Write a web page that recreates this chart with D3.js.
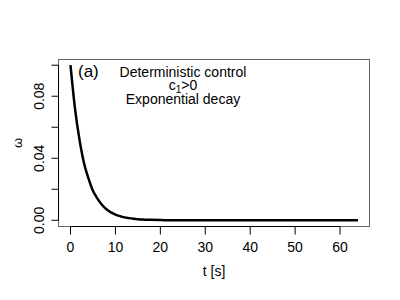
<!DOCTYPE html>
<html><head><meta charset="utf-8">
<script src="https://cdn.jsdelivr.net/npm/d3@7"></script>
<style>body{margin:0;background:#fff;}svg{display:block;font-family:"Liberation Sans",Arial,sans-serif;}</style>
</head><body>
<script>
const timeS = [0,1,2,3,4,5,6,7,8,9,10,11,12,13,14,15,16,18,20,22,25,30,35,40,45,50,55,60,64];
const omega = [0.1,0.072,0.052,0.037,0.027,0.019,0.014,0.010,0.0071,0.0051,0.0037,0.0027,0.0019,0.0014,0.0010,0.0007,0.0005,0.0003,0.00015,0.00008,0.00003,0,0,0,0,0,0,0,0];
const xTicks = [0,10,20,30,40,50,60];
const yTicks = [0,0.02,0.04,0.06,0.08,0.10];
const yLabels = ["0.00","","0.04","","0.08",""];
const annotation = ["Deterministic control","c₁>0","Exponential decay"];

const W=400,H=300;
const svg=d3.select("body").append("svg").attr("width",W).attr("height",H);
const x=d3.scaleLinear().domain([-2.56,66.56]).range([59,369.5]);
const y=d3.scaleLinear().domain([-0.004,0.104]).range([226.5,59]);

svg.append("rect").attr("x",58.5).attr("y",59.5).attr("width",311).attr("height",167)
  .attr("fill","none").attr("stroke","#666").attr("stroke-width",1);

const gx=svg.append("g").attr("transform","translate(0,226.5)");
gx.append("line").attr("x1",x(0)).attr("x2",x(60)).attr("stroke","#000");
xTicks.forEach(t=>{
  gx.append("line").attr("x1",x(t)).attr("x2",x(t)).attr("y1",0).attr("y2",8).attr("stroke","#000");
  gx.append("text").attr("x",x(t)).attr("y",21).attr("dy","0.35em").attr("text-anchor","middle").attr("font-size",14).text(t);
});
const gy=svg.append("g").attr("transform","translate(58.5,0)");
gy.append("line").attr("y1",y(0)).attr("y2",y(0.1)).attr("stroke","#000");
yTicks.forEach((t,i)=>{
  gy.append("line").attr("y1",y(t)).attr("y2",y(t)).attr("x1",0).attr("x2",-7).attr("stroke","#000");
  if(yLabels[i]) gy.append("text").attr("transform",`translate(-19,${y(t)}) rotate(-90)`)
    .attr("text-anchor","middle").attr("dy","0.35em").attr("font-size",14).text(yLabels[i]);
});

svg.append("text").attr("x",214).attr("y",271).attr("dy","0.35em").attr("text-anchor","middle").attr("font-size",14).text("t [s]");
svg.append("text").attr("transform","translate(17,143) rotate(-90)").attr("dy","0.35em").attr("text-anchor","middle").attr("font-size",13).text("ω");

const line=d3.line().x((d,i)=>x(timeS[i])).y(d=>y(d)).curve(d3.curveMonotoneX);
svg.append("path").datum(omega).attr("d",line).attr("fill","none").attr("stroke","#000").attr("stroke-width",2.5);

svg.append("text").attr("x",78).attr("y",71).attr("dy","0.35em").attr("font-size",17).text("(a)");
svg.append("text").attr("x",183).attr("y",72).attr("dy","0.35em").attr("text-anchor","middle").attr("font-size",14).text(annotation[0]);
const c=svg.append("text").attr("x",183).attr("y",85).attr("dy","0.35em").attr("text-anchor","middle").attr("font-size",14);
c.append("tspan").text("c");
c.append("tspan").attr("font-size",10).attr("dy",3).text("1");
c.append("tspan").attr("dy",-3).text(">0");
svg.append("text").attr("x",183).attr("y",99).attr("dy","0.35em").attr("text-anchor","middle").attr("font-size",14).text(annotation[2]);
</script>
</body></html>
